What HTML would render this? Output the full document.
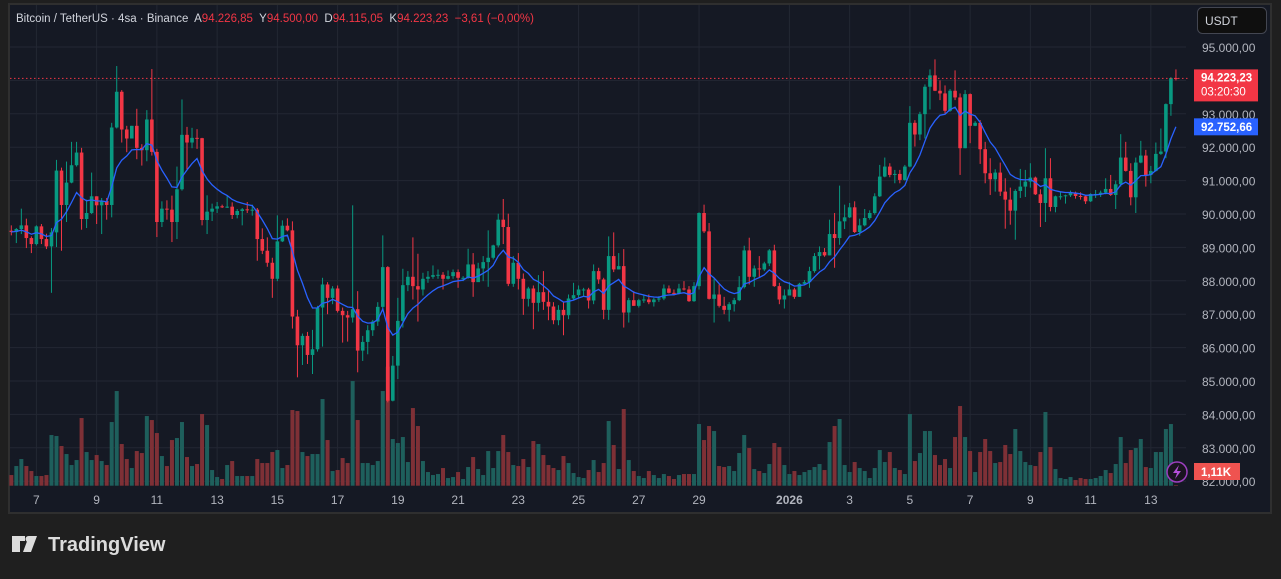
<!DOCTYPE html>
<html><head><meta charset="utf-8"><style>
html,body{margin:0;padding:0;background:#1f1f1f;width:1281px;height:574px;overflow:hidden;font-family:"Liberation Sans",sans-serif}
#wrap{position:absolute;left:0;top:0;width:1281px;height:574px}
svg text{font-family:"Liberation Sans",sans-serif}
</style></head><body>
<div id="wrap">
<svg id="chart" width="1281" height="574" viewBox="0 0 1281 574">
  <rect x="9" y="4" width="1262" height="509" fill="#151924" stroke="#2f2f2f" stroke-width="2"/>
  <g id="grid"></g>
  <g id="vol"></g>
  <g id="candles"></g>
  <g id="ma"></g>
  <g id="axis"></g>
  <g id="taxis"></g>
  <text x="16" y="22" font-size="11.5" fill="#d1d4dc" xml:space="preserve" style="white-space:pre">Bitcoin / TetherUS · 4sa · Binance  A<tspan fill="#f23645">94.226,85</tspan>  Y<tspan fill="#f23645">94.500,00</tspan>  D<tspan fill="#f23645">94.115,05</tspan>  K<tspan fill="#f23645">94.223,23  −3,61 (−0,00%)</tspan></text>
  <g>
    <rect x="1197.5" y="7.5" width="69" height="26" rx="5" fill="#0f0f0f" stroke="#434651"/>
    <text x="1205" y="25" font-size="12" fill="#d1d4dc">USDT</text>
  </g>
  <g>
    <path d="M12 536h13v5h-5v11h-8zM29 536h8l-6 16h-8z" fill="#dcdcdc"/>
    <circle cx="28.5" cy="539" r="3" fill="#dcdcdc"/>
    <text x="48" y="551" font-size="20" font-weight="bold" fill="#dcdcdc">TradingView</text>
  </g>
</svg>
</div>
<script>
const openFirst = 89.50;
const closes = [89.46,89.55,89.66,89.28,89.10,89.63,89.25,89.03,89.45,91.30,
90.27,90.94,91.46,91.84,89.85,90.03,90.53,90.26,90.39,90.27,
92.59,93.66,92.53,92.26,92.64,91.98,91.91,92.83,91.86,89.76,
90.16,90.13,89.76,90.74,92.37,92.14,92.28,92.27,89.82,90.07,
90.16,90.23,90.20,90.22,89.97,90.09,90.14,90.13,90.13,89.25,
88.90,88.54,88.06,89.18,89.65,89.51,86.93,86.07,86.35,85.78,
85.95,87.20,87.89,87.49,87.77,87.10,86.97,86.90,87.15,85.91,
86.17,86.52,86.78,87.22,88.41,84.41,85.46,86.80,87.87,88.12,
87.84,87.74,88.06,88.12,88.17,88.18,88.06,88.14,88.26,88.09,
88.09,88.49,87.96,88.37,88.56,88.69,89.06,89.83,89.61,87.91,
88.54,88.06,87.46,87.77,87.34,87.66,87.37,87.23,86.82,87.13,
86.97,87.47,87.57,87.74,87.74,87.41,88.29,88.04,87.13,88.74,
88.34,88.44,87.05,87.42,87.25,87.42,87.44,87.36,87.44,87.47,
87.77,87.64,87.62,87.77,87.74,87.39,87.84,90.03,89.48,87.46,
87.59,87.25,87.13,87.30,87.42,87.81,88.91,88.12,88.37,88.34,
88.52,88.91,87.84,87.44,87.56,87.74,87.52,87.91,87.96,88.29,
88.74,88.86,88.76,89.40,89.28,89.78,89.90,90.20,89.46,89.66,
89.88,90.03,90.53,91.12,91.42,91.17,91.20,91.02,91.42,92.73,
92.38,92.99,93.81,94.15,93.69,93.61,93.09,93.69,93.49,91.97,
93.59,92.64,92.73,91.94,91.22,91.04,91.24,90.67,90.43,90.10,
90.69,90.82,90.97,91.09,90.59,90.33,91.07,90.21,90.53,90.53,
90.56,90.64,90.54,90.53,90.38,90.60,90.60,90.64,90.75,90.57,
90.89,91.69,91.29,90.50,91.54,91.75,91.17,91.29,91.80,91.87,
93.29,94.07,94.06];
const highs = [89.66,89.58,90.16,89.86,89.33,89.66,89.70,89.41,89.58,91.62,
91.39,91.57,92.16,92.16,91.98,90.43,91.24,90.53,90.48,90.48,
92.73,94.43,93.71,92.64,92.64,93.15,92.09,93.11,94.34,91.95,
90.38,90.41,90.55,91.42,93.43,92.61,92.58,92.54,92.28,90.56,
90.31,90.36,90.28,90.55,90.35,90.15,90.18,90.36,90.28,90.18,
89.57,89.30,88.69,89.96,89.81,89.87,89.78,87.13,86.42,86.47,
86.53,87.25,88.09,87.96,87.84,87.86,87.20,87.10,90.26,87.69,
86.35,86.67,86.83,87.36,89.36,88.44,85.75,87.49,88.36,88.29,
89.30,88.81,88.24,88.29,88.46,88.34,88.26,88.31,88.34,88.34,
88.14,88.96,88.83,88.54,88.74,89.51,89.08,90.01,90.45,90.01,
88.74,88.83,88.22,87.82,87.86,88.17,88.29,87.74,87.36,87.27,
87.36,87.59,87.94,87.86,87.79,87.79,88.49,88.39,88.09,89.33,
89.45,88.83,88.95,87.49,87.69,87.46,87.59,87.59,87.49,87.54,
87.89,87.86,87.74,87.91,87.99,87.84,87.96,90.05,90.28,89.73,
88.09,87.89,87.52,87.36,87.49,88.14,89.05,89.29,88.46,88.74,
88.57,88.95,89.08,87.94,87.74,87.96,87.79,87.94,88.02,88.42,
88.83,89.03,88.98,89.83,90.03,90.85,90.28,90.33,90.38,89.86,
90.15,90.11,90.62,91.47,91.69,91.52,91.32,91.32,91.47,93.23,
92.81,93.06,93.88,94.33,94.63,94.00,93.85,93.74,94.30,93.61,
93.71,93.61,92.78,92.81,92.16,91.67,91.34,91.54,91.07,90.79,
90.74,91.35,91.32,91.52,91.12,90.74,91.97,91.67,90.55,90.67,
90.58,90.70,90.67,90.65,90.55,90.62,90.72,90.70,91.07,91.17,
91.00,92.39,92.16,91.52,91.69,92.19,91.92,91.44,92.14,92.56,
93.31,94.10,94.33];
const lows = [89.36,89.13,89.40,88.98,88.83,89.06,89.10,88.95,87.64,89.01,
88.90,89.76,90.92,91.42,89.53,89.58,90.00,89.70,89.40,89.83,
89.90,92.56,92.14,91.85,92.26,91.64,91.45,91.58,91.75,89.31,
89.61,89.83,89.16,89.25,90.70,91.34,91.97,91.95,89.66,89.40,
89.79,90.03,90.18,90.18,89.85,89.87,89.66,90.03,89.95,88.60,
88.80,88.42,87.49,87.99,89.16,89.48,86.57,85.11,85.48,85.51,
85.21,85.88,86.03,87.00,87.30,87.05,86.15,86.18,86.75,85.26,
85.60,85.80,86.35,86.65,87.15,84.36,84.39,85.06,86.60,87.69,
87.44,86.78,87.56,87.94,88.06,88.06,87.74,88.04,88.06,87.79,
87.99,88.06,87.52,87.97,87.99,87.82,88.64,89.00,89.10,87.84,
87.82,87.74,86.98,87.23,86.55,87.08,87.13,86.82,86.70,86.67,
86.37,86.85,87.44,87.49,87.52,87.17,87.30,87.91,86.85,86.83,
88.26,88.34,86.60,86.75,87.25,87.20,87.34,87.30,87.23,87.37,
87.42,87.62,87.56,87.59,87.71,87.37,87.37,87.74,89.43,87.44,
86.75,87.20,87.00,86.78,87.08,87.39,87.77,87.89,87.82,88.09,
88.29,88.44,87.82,87.30,87.17,87.56,87.46,87.52,87.86,87.79,
88.24,88.34,88.72,88.76,88.39,89.08,89.55,89.88,89.43,89.35,
89.63,89.83,89.98,90.51,91.10,91.10,90.92,90.92,91.00,91.40,
92.02,92.21,92.26,93.13,93.68,93.41,93.01,93.06,93.41,91.17,
91.97,92.12,92.63,91.50,90.92,90.57,90.67,90.54,89.56,89.68,
89.23,90.48,90.51,90.79,90.57,89.61,89.76,90.08,90.05,90.43,
90.31,90.51,90.46,90.43,90.30,90.36,90.48,90.51,90.59,90.54,
90.15,90.82,91.27,90.26,90.03,91.52,90.82,90.92,91.27,91.77,
91.67,92.94,94.00];
const volumes = [32,59,80,59,44,29,29,32,152,149,
119,95,62,77,203,101,77,92,74,62,
191,284,125,80,53,104,98,209,197,158,
89,59,137,143,191,86,59,65,215,182,
47,26,20,62,74,29,29,29,29,80,
68,68,101,107,53,62,227,224,101,89,
95,95,260,137,44,47,83,68,314,197,
68,68,62,74,284,357,140,128,146,71,
233,179,74,41,32,35,53,23,26,41,
20,56,86,50,32,104,53,104,152,101,
62,59,80,56,134,125,92,62,53,47,
89,68,38,26,23,47,77,41,68,194,
122,50,230,77,44,29,23,44,32,23,
35,29,20,32,35,35,35,185,137,179,
164,59,56,59,44,98,152,113,50,44,
38,65,128,116,62,35,44,32,41,47,
56,65,47,131,179,200,62,41,71,53,
44,23,53,107,71,101,53,47,35,215,
74,98,164,164,92,62,80,53,146,239,
146,104,41,101,140,104,68,71,122,95,
170,104,71,62,59,101,221,116,50,23,
20,26,17,23,20,20,23,29,47,38,
65,146,68,107,113,140,56,53,101,101,
170,185,2];
const priceTicks = [95,94,93,92,91,90,89,88,87,86,85,84,83,82];
const priceTickLabels = ["95.000,00","94.000,00","93.000,00","92.000,00","91.000,00","90.000,00","89.000,00","88.000,00","87.000,00","86.000,00","85.000,00","84.000,00","83.000,00","82.000,00"];
const timeTickIndex = [5,17,29,41,53,65,77,89,101,113,125,137,155,167,179,191,203,215,227];
const timeTickLabels = ["7","9","11","13","15","17","19","21","23","25","27","29","2026","3","5","7","9","11","13"];
const maPeriod = 9;
const lastPriceText = "94.223,23";
const countdownText = "03:20:30";
const maValueText = "92.752,66";
const volValueText = "1,11K";

const NS = "http://www.w3.org/2000/svg";
const X0 = 11.3, STEP = 5.02;
const xOf = i => X0 + STEP * i;
const yOf = p => 47 + (95 - p) * 33.4;
const VOL_BASE = 485.7, VOL_SCALE = 119 / 357;
const vY = v => VOL_BASE - v * VOL_SCALE;
const GREEN = "#089981", RED = "#f23645";
function mk(tag, attrs, parent){const e=document.createElementNS(NS,tag);for(const k in attrs)e.setAttribute(k,attrs[k]);parent.appendChild(e);return e;}

const grid = document.getElementById("grid");
priceTicks.forEach((p)=>{
  const l = mk("line",{x1:10,x2:1186,y1:yOf(p),y2:yOf(p),stroke:"#232733","stroke-width":1},grid);
  
  
});
timeTickIndex.forEach((i)=>{
  const l = mk("line",{x1:xOf(i),x2:xOf(i),y1:5,y2:486,stroke:"#232733","stroke-width":1},grid);
  
  
});

const opens = closes.map((c,i)=> i===0 ? openFirst : closes[i-1]);
opens[232] = 94.07;

const vol = document.getElementById("vol");
volumes.forEach((v,i)=>{
  const up = closes[i] >= opens[i];
  const r = mk("rect",{x:xOf(i)-2,y:vY(v),width:4,height:Math.max(0.5,v*VOL_SCALE),fill: up ? "#1e5f5c" : "#7e3036"},vol);
  
  
});

const cg = document.getElementById("candles");
closes.forEach((c,i)=>{
  const o = opens[i], up = c >= o, col = up ? GREEN : RED;
  const g = mk("g",{},cg);
  
  
  mk("line",{x1:xOf(i),x2:xOf(i),y1:yOf(highs[i]),y2:yOf(lows[i]),stroke:col,"stroke-width":1},g);
  const top = yOf(Math.max(o,c)), bot = yOf(Math.min(o,c));
  mk("rect",{x:xOf(i)-1.8,y:top,width:3.6,height:Math.max(1,bot-top),fill:col},g);
});

const ema = [];
const k = 2/(maPeriod+1);
closes.forEach((c,i)=>{ ema.push(i===0 ? c : c*k + ema[i-1]*(1-k)); });
const maG = document.getElementById("ma");
const pl = mk("polyline",{points: ema.map((v,i)=>xOf(i).toFixed(1)+","+yOf(v).toFixed(1)).join(" "),fill:"none",stroke:"#2962ff","stroke-width":1.3},maG);



const axis = document.getElementById("axis");
priceTicks.forEach((p,i)=>{
  const t = mk("text",{x:1202,y:yOf(p)+5,"font-size":12,fill:"#b2b5be"},axis);
  t.textContent = priceTickLabels[i];
  
  
});
const lastY = yOf(closes[closes.length-1]);
const dl = mk("line",{x1:10,x2:1190,y1:lastY,y2:lastY,stroke:RED,"stroke-width":1,"stroke-dasharray":"1.5,2.5"},axis);


const lb = mk("g",{},axis);


mk("rect",{x:1194,y:lastY-9,width:64,height:32,fill:RED},lb);
const t1 = mk("text",{x:1201,y:lastY+3,"font-size":11.5,"font-weight":"bold",fill:"#fff"},lb); t1.textContent = lastPriceText;
const t2 = mk("text",{x:1201,y:lastY+17,"font-size":11.5,fill:"#fff"},lb); t2.textContent = countdownText;
const maY = yOf(ema[ema.length-1]);
const mb = mk("g",{},axis);


mk("rect",{x:1194,y:maY-8.5,width:64,height:17,fill:"#2962ff"},mb);
const t3 = mk("text",{x:1201,y:maY+4,"font-size":11.5,"font-weight":"bold",fill:"#fff"},mb); t3.textContent = maValueText;
const vb = mk("g",{},axis);


mk("rect",{x:1194,y:463,width:46,height:17,fill:"#ef5350"},vb);
const t4 = mk("text",{x:1201,y:476,"font-size":11.5,"font-weight":"bold",fill:"#fff"},vb); t4.textContent = volValueText;
const bolt = mk("g",{},axis);


mk("circle",{cx:1177,cy:472,r:10,fill:"#1a1420",stroke:"#9c3fbf","stroke-width":1.5},bolt);
mk("path",{d:"M1179 465l-6 8h4l-2 6 6-8h-4z",fill:"#b44fd8"},bolt);

const taxis = document.getElementById("taxis");
timeTickIndex.forEach((i,j)=>{
  const t = mk("text",{x:xOf(i),y:504,"font-size":12,fill:"#b2b5be","text-anchor":"middle","font-weight": timeTickLabels[j]==="2026" ? "bold" : "normal"},taxis);
  t.textContent = timeTickLabels[j];
  
  
});
</script>
</body></html>
